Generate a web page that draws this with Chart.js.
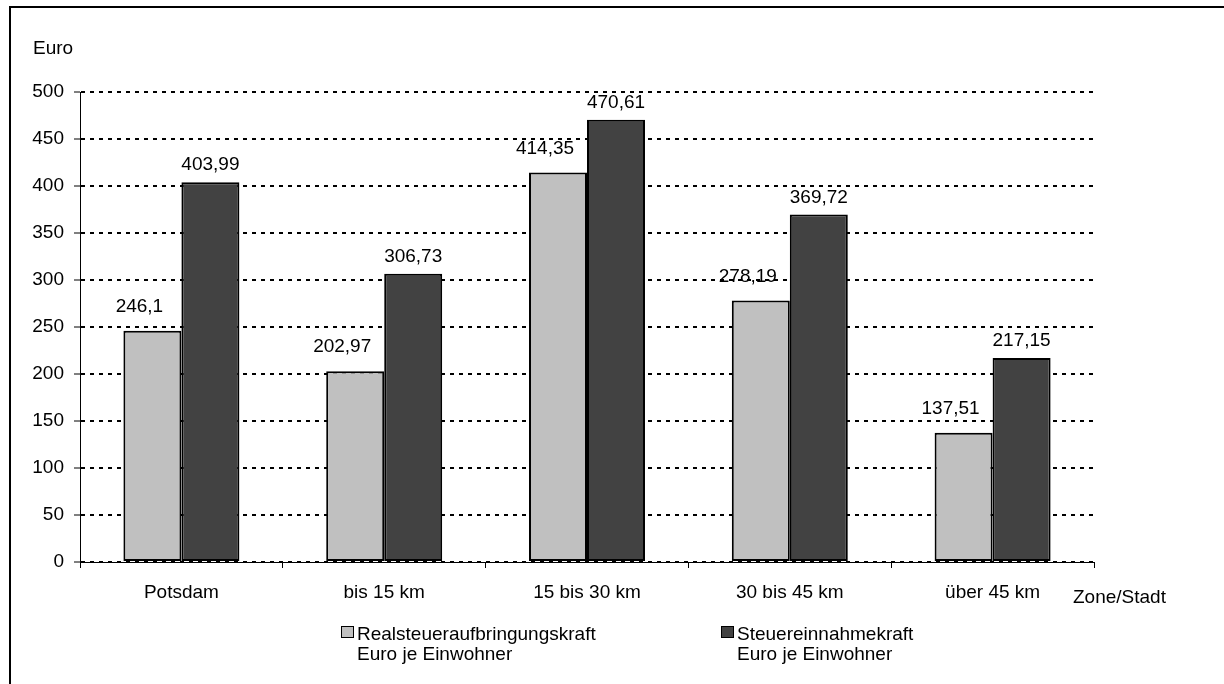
<!DOCTYPE html>
<html>
<head>
<meta charset="utf-8">
<script src="https://cdn.jsdelivr.net/npm/chart.js@4.4.1/dist/chart.umd.min.js"></script>
<style>
  html, body { margin: 0; padding: 0; background: #fff; }
  canvas { display: block; }
</style>
</head>
<body>
<canvas id="steuerChart" width="1224" height="684"></canvas>
<script>
const zonen = ['Potsdam', 'bis 15 km', '15 bis 30 km', '30 bis 45 km', 'über 45 km'];
const realsteuer = [246.1, 202.97, 414.35, 278.19, 137.51];
const steuereinnahme = [403.99, 306.73, 470.61, 369.72, 217.15];
const legendeTexte = [
    ['Realsteueraufbringungskraft', 'Euro je Einwohner'],
    ['Steuereinnahmekraft', 'Euro je Einwohner']
];

const schrift = '"Liberation Sans", Arial, sans-serif';
Chart.defaults.font.family = schrift;
Chart.defaults.font.size = 19;
Chart.defaults.color = '#000';

function zahl(v) {
    return String(v).replace('.', ',');
}

// Rahmen, Achsentitel, Werte über den Balken und Legende
const beschriftung = {
    id: 'beschriftung',
    afterDraw(chart) {
        const ctx = chart.ctx;
        ctx.save();
        ctx.strokeStyle = '#000';
        ctx.lineWidth = 2;
        ctx.strokeRect(10, 7, 1400, 900);

        ctx.fillStyle = '#000';
        ctx.font = '19px ' + schrift;
        ctx.textBaseline = 'middle';
        ctx.textAlign = 'left';
        ctx.fillText('Euro', 33, 49);
        ctx.fillText('Zone/Stadt', 1073, 598);

        // Werte
        ctx.textAlign = 'center';
        chart.data.datasets.forEach((ds, i) => {
            chart.getDatasetMeta(i).data.forEach((bar, j) => {
                const dx = i === 0 ? -13 : 0;
                const dy = i === 0 ? 24 : 17;
                ctx.fillText(zahl(ds.data[j]), bar.x + dx, bar.y - dy);
            });
        });

        // Legende
        ctx.textAlign = 'left';
        const legX = [341, 721];
        chart.data.datasets.forEach((ds, i) => {
            ctx.fillStyle = ds.backgroundColor;
            ctx.fillRect(legX[i], 626, 12, 11);
            ctx.lineWidth = 1;
            ctx.strokeRect(legX[i] + 0.5, 626.5, 12, 11);
            ctx.fillStyle = '#000';
            legendeTexte[i].forEach((zeile, k) => {
                ctx.fillText(zeile, legX[i] + 16, 635 + k * 20);
            });
        });
        ctx.restore();
    }
};

new Chart(document.getElementById('steuerChart'), {
    type: 'bar',
    data: {
        labels: zonen,
        datasets: [{
            label: 'Realsteueraufbringungskraft',
            data: realsteuer,
            backgroundColor: '#c0c0c0',
            borderColor: '#000',
            borderWidth: 2,
            borderSkipped: false
        }, {
            label: 'Steuereinnahmekraft',
            data: steuereinnahme,
            backgroundColor: '#424242',
            borderColor: '#000',
            borderWidth: 2,
            borderSkipped: false
        }]
    },
    options: {
        responsive: false,
        animation: false,
        devicePixelRatio: 1,
        layout: { padding: { top: 92, right: 130, bottom: 82, left: 0 } },
        datasets: { bar: { categoryPercentage: 0.572, barPercentage: 1 } },
        plugins: {
            legend: { display: false },
            tooltip: { enabled: false }
        },
        scales: {
            x: {
                afterFit(s) { s.height = 40; },
                border: { color: '#000', width: 1 },
                grid: {
                    drawOnChartArea: false,
                    drawTicks: true,
                    tickLength: 6,
                    tickColor: '#000',
                    tickWidth: 1
                },
                ticks: { padding: 13, color: '#000' }
            },
            y: {
                min: 0,
                max: 500,
                afterFit(s) { s.width = 80; },
                border: { color: '#000', width: 1, dash: [4, 5] },
                grid: {
                    color: '#000',
                    lineWidth: 2,
                    tickLength: 6,
                    tickColor: '#000',
                    tickWidth: 1,
                    tickBorderDash: [1, 0]
                },
                ticks: { stepSize: 50, padding: 10, color: '#000' }
            }
        }
    },
    plugins: [beschriftung]
});
</script>
</body>
</html>
